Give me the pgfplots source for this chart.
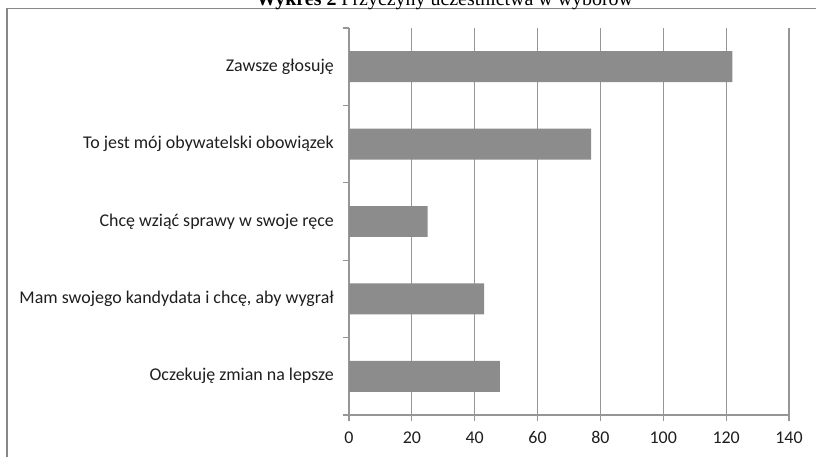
\documentclass[border=0pt]{standalone}
\usepackage{fontspec}
\setmainfont{Carlito}
\newfontfamily\titlefont{Liberation Serif}
\usepackage{pgfplots}
\pgfplotsset{compat=1.18}
\definecolor{bargray}{RGB}{140,140,140}
\definecolor{linegray}{RGB}{150,150,150}
\definecolor{framegray}{RGB}{135,135,135}
\definecolor{labelcol}{RGB}{30,30,30}
\begin{document}
\begin{tikzpicture}
\begin{scope}
\clip (0,0) rectangle (612bp,342.75bp);
\draw[framegray, line width=0.8bp] (5.25bp,-5bp) -- (5.25bp,336.5bp) -- (620bp,336.5bp);
\node[anchor=base, inner sep=0pt] at (333.5bp,338.25bp)
  {\titlefont\fontsize{15}{18}\selectfont\textbf{Wykres 2} Przyczyny uczestnictwa w wyborów};
\begin{axis}[
  at={(261.75bp,31.5bp)}, anchor=south west,
  scale only axis, width=330bp, height=290.25bp,
  xbar, bar width=0.4,
  xmin=0, xmax=140, ymin=-0.5, ymax=4.5,
  xtick={0,20,...,140},
  ytick={0,1,2,3,4},
  yticklabels={Oczekuję zmian na lepsze, {Mam swojego kandydata i chcę, aby wygrał}, Chcę wziąć sprawy w swoje ręce, To jest mój obywatelski obowiązek, Zawsze głosuję},
  minor ytick={-0.5,0.5,...,4.5},
  axis x line*=bottom, axis y line*=left,
  axis line style={-, draw=linegray, line width=0.8bp},
  tick align=outside,
  major tick length=4.5bp, minor tick length=4.5bp,
  tick style={draw=linegray, line width=0.8bp},
  major y tick style={draw=none},
  minor y tick style={draw=linegray, line width=0.8bp},
  xmajorgrids, major grid style={draw=linegray, line width=0.8bp},
  ticklabel style={font=\fontsize{13.5}{16}\selectfont, text=labelcol},
  yticklabel style={xshift=-3.4bp},
  xticklabel style={yshift=-4.5bp},
  /pgf/number format/assume math mode=true,
]
\addplot[fill=bargray, draw=none] coordinates {(48,0) (43,1) (25,2) (77,3) (122,4)};
\end{axis}
\end{scope}
\pgfresetboundingbox
\path[use as bounding box] (0,0) rectangle (612bp,342.75bp);
\end{tikzpicture}
\end{document}
